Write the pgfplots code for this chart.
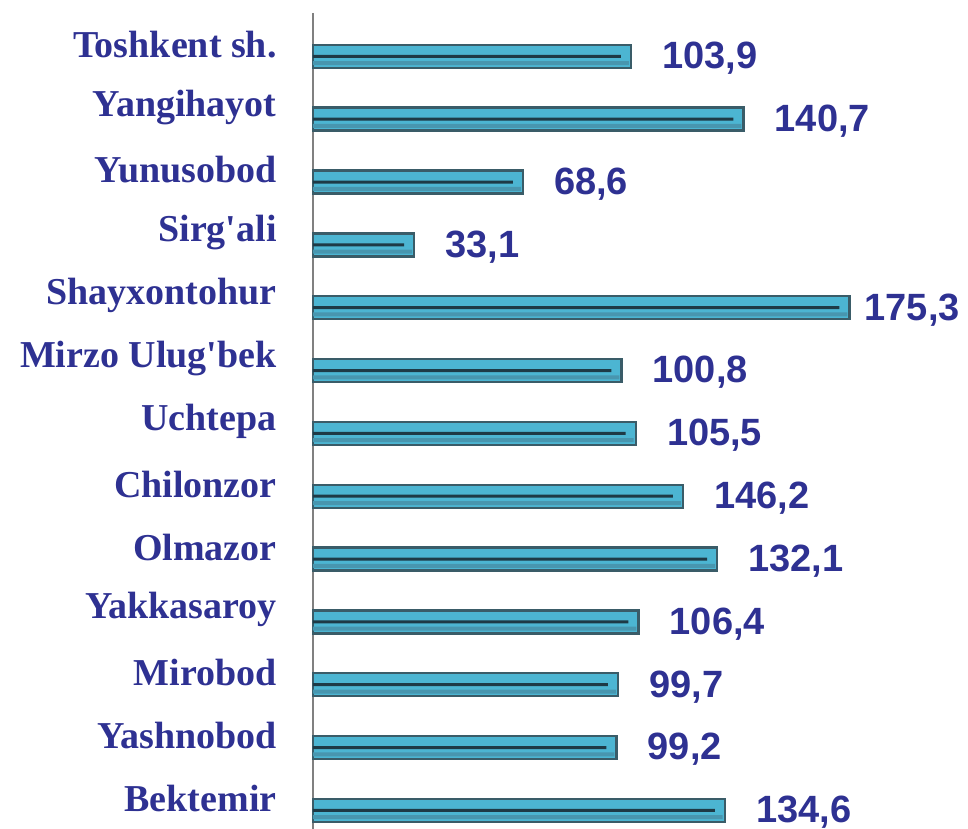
\documentclass[border=0pt]{standalone}
\usepackage{pgfplots}
\pgfplotsset{compat=1.18}
\usepackage{fontspec}
\setmainfont{Liberation Serif}
\newfontfamily\valfont{Liberation Sans}
\definecolor{lblblue}{RGB}{46,49,146}
\definecolor{barfill}{RGB}{76,181,210}
\definecolor{barlow}{RGB}{72,150,175}
\definecolor{baredge}{RGB}{58,92,104}
\definecolor{barline}{RGB}{30,58,70}
\begin{document}
\begin{tikzpicture}
\begin{axis}[
  name=ax,
  scale only axis,
  width=306pt, height=407.8pt,
  xmin=0, xmax=200,
  ymin=-0.69, ymax=12.29,
  y dir=reverse,
  axis x line=none,
  axis y line=left,
  y axis line style={-, draw=gray, line width=1pt},
  xtick=\empty,
  ytick={0,...,12},
  yticklabels={Toshkent sh., Yangihayot, Yunusobod, Sirg\textquotesingle ali, Shayxontohur, Mirzo Ulug\textquotesingle bek, Uchtepa, Chilonzor, Olmazor, Yakkasaroy, Mirobod, Yashnobod, Bektemir},
  major tick length=0pt,
  yticklabel style={font=\fontsize{19}{22}\selectfont\bfseries, text=lblblue, anchor=east, inner sep=0pt, xshift=-18pt, yshift=6pt},
  clip=false,
]
\addplot[xbar, bar width=11.5pt, fill=barfill, draw=baredge, line width=1.2pt,
  point meta=explicit symbolic,
  nodes near coords,
  nodes near coords style={anchor=west, inner sep=0pt, xshift=15pt, yshift=-1pt, font=\valfont\fontsize{19}{22}\selectfont\bfseries, text=lblblue}]
coordinates {
(103.9,0) [103,9]
(140.7,1) [140,7]
(68.6,2) [68,6]
(33.1,3) [33,1]
(175.3,4) [\kern-8pt 175,3]
(100.8,5) [100,8]
(105.5,6) [105,5]
(120.9,7) [146,2]
(132.1,8) [132,1]
(106.4,9) [106,4]
(99.7,10) [99,7]
(99.2,11) [99,2]
(134.6,12) [134,6]
};
\addplot[xbar, bar width=2pt, bar shift=-3.4pt, fill=barlow, draw=none]
coordinates {
(103.2,0)
(140.0,1)
(67.9,2)
(32.4,3)
(174.6,4)
(100.1,5)
(104.8,6)
(120.2,7)
(131.4,8)
(105.7,9)
(99.0,10)
(98.5,11)
(133.9,12)
};
\addplot[xbar, bar width=1.5pt, fill=barline, draw=none]
coordinates {
(100.6,0)
(137.4,1)
(65.3,2)
(29.8,3)
(172.0,4)
(97.5,5)
(102.2,6)
(117.6,7)
(128.8,8)
(103.1,9)
(96.4,10)
(95.9,11)
(131.3,12)
};
\end{axis}
\pgfresetboundingbox
\path[use as bounding box] ([xshift=-156.5pt]ax.south west) rectangle ([xshift=327.5pt, yshift=6.5pt]ax.north west);
\end{tikzpicture}
\end{document}
